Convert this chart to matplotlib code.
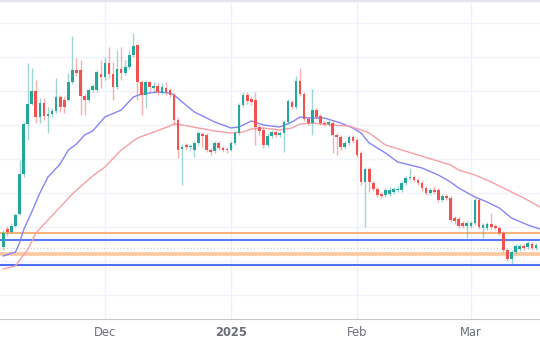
import matplotlib
matplotlib.use("Agg")
import matplotlib.pyplot as plt
import matplotlib.dates as mdates
from matplotlib.ticker import MultipleLocator
import numpy as np
import pandas as pd

# daily candles, 2024-11-06 .. 2025-03-17 (price in chart units)
start = "2024-11-06"
opens = [82, 100, 97, 103, 115, 155, 205, 225, 238, 212, 226, 213, 215, 218, 232, 229, 229, 247,
         259, 259, 233, 229, 239, 239, 255, 252, 266, 255, 242, 260, 256, 262, 274, 284, 247, 234,
         247, 241, 243, 236, 241, 239, 234, 209, 180, 184, 182, 179, 186, 195, 194, 179, 178, 186,
         181, 180, 179, 186, 196, 224, 234, 230, 229, 202, 199, 184, 193, 197, 194, 196, 207, 227,
         222, 248, 235, 210, 206, 219, 213, 206, 205, 206, 194, 192, 182, 186, 192, 189, 176, 147,
         160, 146, 140, 135, 134, 135, 137, 139, 139, 146, 151, 152, 149, 146, 141, 136, 139, 139,
         129, 133, 131, 111, 110, 106, 103, 103, 106, 129, 101, 101, 105, 103, 101, 96, 79, 70,
         77, 80, 83, 82, 85, 81]
highs = [99, 103, 106, 116, 169, 207, 266, 261, 249, 231, 231, 222, 221, 251, 234, 233, 256, 293,
         271, 269, 235, 241, 245, 259, 269, 272, 282, 267, 279, 282, 269, 279, 296, 285, 249, 249,
         248, 247, 246, 246, 247, 241, 236, 212, 185, 186, 185, 188, 198, 197, 196, 181, 188, 188,
         183, 182, 188, 198, 226, 237, 237, 233, 237, 204, 201, 196, 199, 199, 198, 209, 230, 229,
         253, 261, 237, 212, 240, 221, 215, 208, 209, 208, 196, 194, 188, 194, 194, 191, 178, 162,
         162, 148, 142, 137, 141, 142, 142, 143, 148, 153, 161, 154, 151, 148, 143, 141, 143, 141,
         135, 135, 133, 113, 112, 108, 108, 108, 131, 131, 106, 107, 116, 105, 103, 98, 81, 79,
         85, 85, 85, 88, 87, 86]
lows = [79, 93, 96, 102, 114, 152, 189, 224, 206, 206, 209, 196, 212, 216, 217, 216, 228, 245,
        253, 214, 214, 227, 237, 237, 241, 249, 251, 229, 240, 249, 254, 260, 272, 229, 214, 221,
        237, 237, 234, 235, 234, 232, 204, 171, 144, 179, 179, 172, 184, 182, 177, 174, 176, 179,
        177, 176, 178, 184, 194, 222, 225, 224, 184, 194, 181, 182, 191, 192, 192, 177, 205, 220,
        220, 233, 208, 204, 194, 210, 204, 203, 203, 176, 174, 179, 180, 184, 186, 172, 144, 102,
        137, 138, 132, 131, 132, 133, 135, 137, 137, 144, 149, 147, 144, 138, 134, 134, 135, 127,
        127, 129, 107, 105, 101, 101, 91, 101, 104, 100, 91, 99, 100, 99, 94, 77, 68, 64,
        75, 78, 79, 80, 79, 79]
closes = [96, 97, 103, 114, 155, 205, 225, 238, 212, 226, 213, 215, 218, 232, 222, 222, 247, 259,
          256, 233, 229, 239, 243, 257, 252, 266, 255, 242, 260, 256, 262, 274, 283, 247, 234, 247,
          242, 243, 237, 242, 237, 234, 209, 179, 182, 182, 183, 186, 196, 193, 179, 177, 186, 181,
          179, 179, 186, 196, 224, 234, 228, 227, 202, 198, 184, 193, 197, 194, 196, 207, 228, 222,
          248, 235, 210, 206, 219, 212, 206, 205, 207, 194, 192, 182, 186, 192, 188, 174, 147, 160,
          147, 140, 134, 133, 139, 139, 140, 140, 146, 151, 152, 149, 146, 141, 136, 139, 137, 129,
          133, 131, 109, 108, 103, 103, 106, 106, 129, 102, 104, 105, 102, 101, 96, 79, 70, 77,
          83, 83, 81, 86, 81, 84]

# moving averages (day offset from start, value)
fast_days = [0, 3, 4, 5, 7, 9, 11, 14, 16, 18, 20, 22, 25, 29, 32, 34, 38, 41, 42, 44, 47, 52, 56,
             58, 61, 64, 68, 71, 73, 75, 79, 83, 86, 88, 90, 94, 97, 100, 103, 107, 110, 112, 116,
             119, 122, 125, 129, 132]
fast_ma = [73, 77, 86, 99, 117, 136, 152, 165, 179, 185, 194, 198, 212, 219, 232, 235, 237, 236, 234,
           227, 217, 207, 201, 202, 208, 204, 202, 207, 212, 211, 211, 206, 201, 196, 186, 176, 167,
           164, 161, 154, 147, 141, 132, 127, 121, 111, 104, 100]
slow_days = [0, 3, 4, 6, 8, 11, 14, 17, 20, 22, 25, 29, 33, 37, 41, 42, 44, 48, 52, 56, 59, 61, 64,
             68, 71, 73, 76, 81, 85, 88, 90, 94, 98, 102, 106, 110, 112, 116, 120, 124, 128, 132]
slow_ma = [60, 63, 69, 79, 96, 109, 122, 135, 146, 153, 162, 179, 191, 197, 203, 205, 204, 201, 198,
           196, 197, 200, 201, 199, 201, 205, 206, 204, 203, 199, 196, 184, 179, 174, 169, 164, 159,
           154, 147, 139, 131, 122]

# support / resistance levels
levels = [96, 89, 75, 64]
level_colors = ["#f6a560", "#5b7cf6", "#f9c7a0", "#4f6ff2"]
level_widths = [1.2, 1.5, 2.6, 1.5]
last_price = 81

month_ticks = ["2024-12-01", "2025-01-01", "2025-02-01", "2025-03-01"]
month_labels = ["Dec", "2025", "Feb", "Mar"]

up_col = "#26a69a"
down_col = "#ef5350"

base = pd.Timestamp(start)
dates = mdates.date2num(pd.date_range(start, periods=len(opens), freq="D"))
o = np.array(opens); h = np.array(highs); l = np.array(lows); c = np.array(closes)
up = c >= o
cols = np.where(up, up_col, down_col)

fig = plt.figure(figsize=(5.4, 3.4), dpi=100)
ax = fig.add_axes([0, 21/340, 1, 319/340])

ax.yaxis.set_major_locator(MultipleLocator(34))
ax.grid(axis="y", color="#f0f3fa", lw=1)
for t in month_ticks:
    ax.axvline(mdates.date2num(pd.Timestamp(t)), color="#eef2f7", lw=1, zorder=0)

ax.axhline(last_price, color="#c9ccd3", lw=0.8, ls=(0, (1, 2)), zorder=1)
for lv, lc, lw in zip(levels, level_colors, level_widths):
    ax.axhline(lv, color=lc, lw=lw, zorder=2)

ax.plot(mdates.date2num(base + pd.to_timedelta(fast_days, unit="D")), fast_ma,
        color="#8585f7", lw=1, zorder=3)
ax.plot(mdates.date2num(base + pd.to_timedelta(slow_days, unit="D")), slow_ma,
        color="#f6a0a4", lw=1, zorder=3)

ax.vlines(dates, l, h, colors=cols, lw=1, alpha=0.45, zorder=4)
body = np.maximum(np.abs(c - o), 0.8)
ax.bar(dates, body, bottom=np.minimum(o, c), width=0.65, color=cols, lw=0, zorder=5)

ax.set_xlim(dates[0] - 0.8, dates[-1] + 1.0)
ax.set_ylim(10, 329)
ax.set_xticks(mdates.date2num(pd.to_datetime(month_ticks)))
ax.set_xticklabels(month_labels)
ax.tick_params(axis="x", length=0, pad=5, labelsize=8.3, labelcolor="#6a6d78")
ax.tick_params(axis="y", length=0, labelleft=False)
ax.get_xticklabels()[1].set_fontweight("bold")

for s in ["left", "right"]:
    ax.spines[s].set_visible(False)
ax.spines["bottom"].set_color("#c5c8ce")
ax.spines["top"].set_color("#e3e5ea")
ax.spines["top"].set_linewidth(2.5)

fig.savefig("out.png", dpi=100)
